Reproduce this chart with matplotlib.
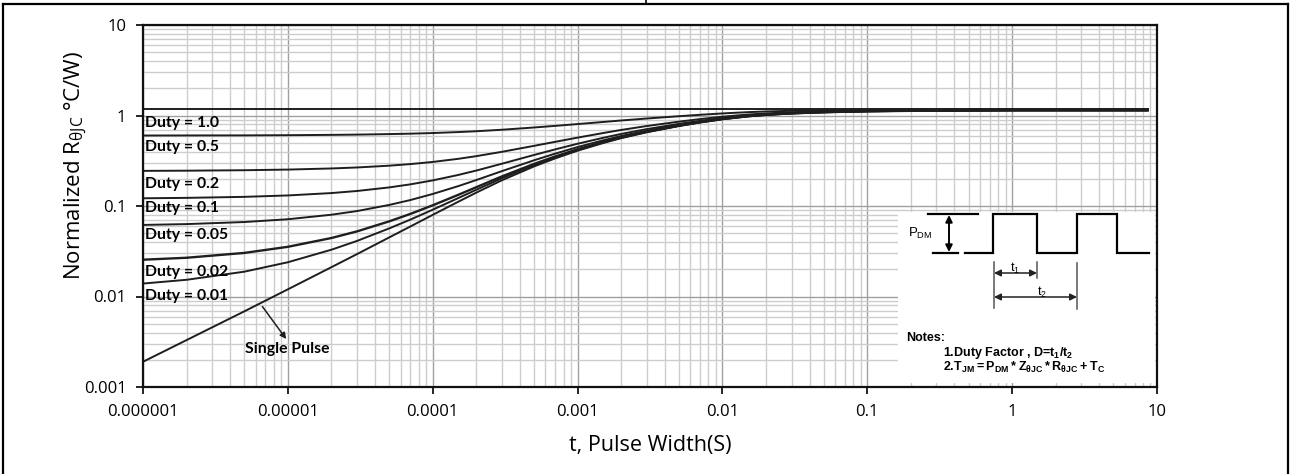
import matplotlib.pyplot as plt
from matplotlib.ticker import FixedLocator, LogLocator, NullFormatter

t = [1e-6, 2e-6, 5e-6, 1e-5, 2e-5, 3e-5, 5e-5, 7e-5, 1e-4, 1.5e-4, 2e-4, 3e-4, 5e-4, 7e-4,
     1e-3, 1.5e-3, 2e-3, 3e-3, 5e-3, 7e-3, 1e-2, 1.5e-2, 2e-2, 3e-2, 5e-2, 0.1, 0.2, 1, 8.6]
t_flat = [1e-6, 8.6]

duty_10 = [1.19, 1.19]
duty_05 = [0.601, 0.602, 0.603, 0.606, 0.611, 0.615, 0.623, 0.630, 0.640, 0.656, 0.670,
           0.696, 0.737, 0.768, 0.804, 0.848, 0.881, 0.926, 0.982, 1.018, 1.054, 1.089,
           1.108, 1.127, 1.143, 1.156, 1.163, 1.170, 1.170]
duty_02 = [0.2445, 0.2456, 0.2485, 0.2526, 0.2599, 0.2665, 0.2789, 0.2904, 0.3068, 0.3321,
           0.3555, 0.3968, 0.4618, 0.5116, 0.5696, 0.6398, 0.6924, 0.7648, 0.8547, 0.9122,
           0.970, 1.025, 1.055, 1.085, 1.111, 1.133, 1.143, 1.155, 1.155]
duty_01 = [0.1217, 0.1230, 0.1262, 0.1308, 0.1390, 0.1465, 0.1604, 0.1734, 0.1918, 0.2203,
           0.2465, 0.2931, 0.3662, 0.4221, 0.4875, 0.5664, 0.6255, 0.7071, 0.8081, 0.8729,
           0.938, 1.000, 1.034, 1.068, 1.097, 1.121, 1.133, 1.146, 1.146]
duty_005 = [0.0618, 0.0631, 0.0665, 0.0714, 0.0801, 0.0879, 0.1027, 0.1163, 0.1358, 0.1658,
            0.1936, 0.2427, 0.3198, 0.3789, 0.4479, 0.5312, 0.5936, 0.6797, 0.7864, 0.8547,
            0.923, 0.989, 1.024, 1.060, 1.091, 1.116, 1.129, 1.143, 1.143]
duty_002 = [0.0255, 0.0268, 0.0303, 0.0354, 0.0443, 0.0524, 0.0676, 0.0817, 0.1018, 0.1328,
            0.1614, 0.2121, 0.2916, 0.3526, 0.4237, 0.5097, 0.5741, 0.6629, 0.7729, 0.8434,
            0.914, 0.982, 1.018, 1.056, 1.087, 1.113, 1.126, 1.141, 1.141]
duty_001 = [0.0139, 0.0153, 0.0188, 0.0239, 0.0329, 0.0411, 0.0565, 0.0707, 0.0910, 0.1223,
            0.1512, 0.2024, 0.2828, 0.3443, 0.4162, 0.5030, 0.5681, 0.6578, 0.7690, 0.8401,
            0.912, 0.980, 1.017, 1.055, 1.086, 1.113, 1.126, 1.141, 1.141]
single = [0.0019, 0.0033, 0.00685, 0.0120, 0.0211, 0.0294, 0.0449, 0.0593, 0.0798, 0.1114,
          0.1406, 0.1923, 0.2735, 0.3357, 0.4083, 0.4960, 0.5617, 0.6523, 0.7646, 0.8365,
          0.909, 0.978, 1.015, 1.053, 1.085, 1.112, 1.125, 1.140, 1.140]

duty_labels = ['Duty = 1.0', 'Duty = 0.5', 'Duty = 0.2', 'Duty = 0.1',
               'Duty = 0.05', 'Duty = 0.02', 'Duty = 0.01']
duty_label_y = [0.826, 0.449, 0.175, 0.095, 0.0478, 0.0187, 0.0101]

xticks = [1e-6, 1e-5, 1e-4, 1e-3, 1e-2, 0.1, 1, 10]
xticklabels = ['0.000001', '0.00001', '0.0001', '0.001', '0.01', '0.1', '1', '10']
yticks = [0.001, 0.01, 0.1, 1, 10]
yticklabels = ['0.001', '0.01', '0.1', '1', '10']

plt.rcParams['mathtext.fontset'] = 'custom'
plt.rcParams['mathtext.rm'] = 'Liberation Sans'
plt.rcParams['mathtext.bf'] = 'Liberation Sans:bold'

W, H = 1291, 474
fig = plt.figure(figsize=(W / 100, H / 100), dpi=100)

# table-cell border around the chart
fig.add_artist(plt.Line2D([3 / W, 3 / W], [0, 1 - 3.5 / H], color='black', lw=1.6))
fig.add_artist(plt.Line2D([1288 / W, 1288 / W], [0, 1 - 3.5 / H], color='black', lw=1.6))
fig.add_artist(plt.Line2D([3 / W, 1288 / W], [1 - 3.5 / H, 1 - 3.5 / H], color='black', lw=1.6))
fig.add_artist(plt.Line2D([646 / W, 646 / W], [1 - 3.5 / H, 1], color='black', lw=1.2))

ax = fig.add_axes([143 / W, 1 - 387 / H, (1157 - 143) / W, (387 - 25) / H])
ax.set_xscale('log')
ax.set_yscale('log')
ax.set_xlim(1e-6, 10)
ax.set_ylim(0.001, 10)

ax.xaxis.set_major_locator(FixedLocator(xticks))
ax.set_xticklabels(xticklabels)
ax.yaxis.set_major_locator(FixedLocator(yticks))
ax.set_yticklabels(yticklabels)
ax.xaxis.set_minor_locator(LogLocator(base=10, subs=range(2, 10), numticks=20))
ax.yaxis.set_minor_locator(LogLocator(base=10, subs=range(2, 10), numticks=20))
ax.xaxis.set_minor_formatter(NullFormatter())
ax.yaxis.set_minor_formatter(NullFormatter())

ax.grid(which='major', color='#a0a0a0', lw=1.0)
ax.grid(which='minor', color='#cdcdcd', lw=1.0)
ax.set_axisbelow(True)
ax.tick_params(which='major', direction='out', length=5, width=1.2, labelsize=12, pad=7)
ax.tick_params(which='minor', length=0)
for lab in ax.get_xticklabels() + ax.get_yticklabels():
    lab.set_family('Open Sans')
for s in ax.spines.values():
    s.set_linewidth(1.6)
    s.set_color('#111111')

lc = '#1e1e1e'
ax.plot(t_flat, duty_10, color=lc, lw=1.4)
for ys in [duty_05, duty_02, duty_01, duty_005, duty_001, single]:
    ax.plot(t, ys, color=lc, lw=1.4)
ax.plot(t, duty_002, color=lc, lw=1.7)

for lab, yv in zip(duty_labels, duty_label_y):
    ax.text(1.03e-6, yv, lab, fontsize=11.3, fontweight='bold', family='Lato',
            va='center', ha='left', color='black')

ax.annotate('', xy=(1.0e-5, 0.0032), xytext=(6.5e-6, 0.0082),
            arrowprops=dict(arrowstyle='-|>', color=lc, lw=1.1, mutation_scale=9))
ax.text(5.06e-6, 0.00262, 'Single Pulse', fontsize=11.3, fontweight='bold',
        family='Lato', va='center', ha='left')

fig.text(650 / W, 1 - 445 / H, 't, Pulse Width(S)', fontsize=15.5, family='Open Sans',
         ha='center', va='center')
fig.text(76 / W, 1 - 165 / H, r'Normalized R$_{\mathregular{θJC}}$ °C/W)', fontsize=16,
         family='Open Sans', rotation=90, ha='center', va='center')

# inset: pulse diagram and notes (pixel coordinates of the inset box)
ins = fig.add_axes([898 / W, 1 - 383 / H, (1155 - 898) / W, (383 - 212) / H])
ins.set_xlim(898, 1155)
ins.set_ylim(383, 212)
ins.axis('off')
ins.add_patch(plt.Rectangle((898, 212), 257, 171, color='white', zorder=0))

pulse_x = [965, 993, 993, 1037, 1037, 1077, 1077, 1117, 1117, 1149]
pulse_y = [253, 253, 214, 214, 253, 253, 214, 214, 253, 253]
ins.plot(pulse_x, pulse_y, color='black', lw=1.6, solid_joinstyle='miter')
ins.plot([928, 978], [214, 214], color='black', lw=1.6)
ins.plot([933, 958], [253, 253], color='black', lw=1.6)
arrow = dict(arrowstyle='<|-|>', color='black', lw=1.4, mutation_scale=10,
             shrinkA=0, shrinkB=0)
ins.annotate('', xy=(949, 215), xytext=(949, 252), arrowprops=arrow)
ins.annotate('', xy=(994, 273), xytext=(1037, 273),
             arrowprops=dict(arrow, lw=1.1, color='#222222'))
ins.annotate('', xy=(994, 297), xytext=(1077, 297),
             arrowprops=dict(arrow, lw=1.1, color='#222222'))
ins.plot([994, 994], [262, 308], color='#555555', lw=1.1)
ins.plot([1037, 1037], [262, 278], color='#555555', lw=1.1)
ins.plot([1077, 1077], [263, 309], color='#555555', lw=1.1)

ins.text(920, 233, r'$\mathregular{P_{DM}}$', fontsize=9.5, family='Liberation Sans',
         ha='center', va='center')
ins.text(1015, 268, r'$\mathregular{t_1}$', fontsize=9, family='Liberation Sans',
         ha='center', va='center')
ins.text(1042, 292, r'$\mathregular{t_2}$', fontsize=9, family='Liberation Sans',
         ha='center', va='center')
ins.text(906, 338, 'Notes:', fontsize=9, fontweight='bold', family='Liberation Sans',
         ha='left', va='center')
ins.text(943, 353, r'1.Duty Factor , D=$\mathbf{t_1/t_2}$', fontsize=9,
         fontweight='bold', family='Liberation Sans', ha='left', va='center')
ins.text(943, 367, r'2.$\mathbf{T_{JM}=P_{DM}*Z_{θJC}*R_{θJC}+T_C}$', fontsize=9,
         fontweight='bold', family='Liberation Sans', ha='left', va='center')

fig.savefig('out.png', dpi=100)
